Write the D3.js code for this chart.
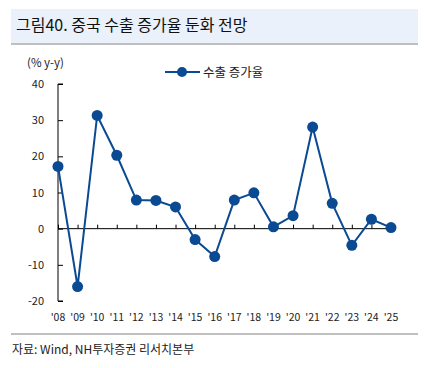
<!DOCTYPE html>
<html><head><meta charset="utf-8">
<script src="https://cdn.jsdelivr.net/npm/d3@7"></script>
<style>body{margin:0;background:#fff;} svg{display:block;}</style>
</head><body>
<svg id="c" width="424" height="368"></svg>
<script>
const years = ["'08","'09","'10","'11","'12","'13","'14","'15","'16","'17","'18","'19","'20","'21","'22","'23","'24","'25"];
const exportGrowth = [17.2,-16.0,31.3,20.3,7.9,7.8,6.0,-3.0,-7.7,7.9,9.9,0.5,3.6,28.1,7.0,-4.6,2.6,0.3];
const yTicks = [40,30,20,10,0,-10,-20];
const seriesName = "수출 증가율";
const title = "그림40. 중국 수출 증가율 둔화 전망";
const source = "자료: Wind, NH투자증권 리서치본부";
const yLabel = "(% y-y)";

const font = "'Noto Sans CJK KR', 'Noto Sans', sans-serif";
const blue = "#0a4a92";
const svg = d3.select("#c");

// title banner
svg.append("rect").attr("x",11).attr("y",9).attr("width",407).attr("height",34).attr("fill","#eaf1fa");
svg.append("rect").attr("x",11).attr("y",43).attr("width",407).attr("height",2).attr("fill","#bfbfbf");
svg.append("text").attr("x",16).attr("y",31).attr("font-family",font).attr("font-size",16).attr("fill","#111").text(title);

const x = d3.scalePoint().domain(years).range([58,391]);
const y = d3.scaleLinear().domain([-20,40]).range([301,84]);

// y axis
const yAxis = svg.append("g").attr("transform","translate(58,0)")
  .call(d3.axisRight(y).tickValues(yTicks).tickSize(5).tickFormat(""));
yAxis.select(".domain").attr("d", `M5,${y(40)}H0V${y(-20)}H5`).attr("stroke","#000");
yAxis.selectAll(".tick line").attr("stroke","#000");
svg.append("g").selectAll("text").data(yTicks).join("text")
  .attr("x",44).attr("y",d=>y(d)+4).attr("text-anchor","end")
  .attr("font-family",font).attr("font-size",11).attr("fill","#222").text(d=>d);
svg.append("text").attr("x",27).attr("y",67).attr("font-family",font).attr("font-size",11.5).attr("fill","#222").text(yLabel);

// x axis at zero
const xAxis = svg.append("g").attr("transform",`translate(0,${y(0)})`)
  .call(d3.axisTop(x).tickSize(4).tickFormat(""));
xAxis.select(".domain").attr("d",`M${x(years[0])},0H${x(years[years.length-1])}`).attr("stroke","#000");
xAxis.selectAll(".tick line").attr("stroke","#000");
svg.append("g").selectAll("text").data(years).join("text")
  .attr("x",d=>x(d)).attr("y",321).attr("text-anchor","middle")
  .attr("font-family",font).attr("font-size",10.5).attr("fill","#222").text(d=>d);

// line
const pts = years.map((yr,i)=>[x(yr), y(exportGrowth[i])]);
svg.append("path").attr("d", d3.line()(pts)).attr("fill","none").attr("stroke",blue).attr("stroke-width",2);
svg.append("g").selectAll("circle").data(pts).join("circle")
  .attr("cx",d=>d[0]).attr("cy",d=>d[1]).attr("r",5.5).attr("fill",blue);

// legend
svg.append("line").attr("x1",165).attr("x2",200).attr("y1",72).attr("y2",72).attr("stroke",blue).attr("stroke-width",2);
svg.append("circle").attr("cx",182).attr("cy",72).attr("r",5).attr("fill",blue);
svg.append("text").attr("x",203).attr("y",77).attr("font-family",font).attr("font-size",12.5).attr("fill","#222").text(seriesName);

// footer
svg.append("rect").attr("x",11).attr("y",333).attr("width",407).attr("height",2).attr("fill","#bfbfbf");
svg.append("text").attr("x",12).attr("y",354).attr("font-family",font).attr("font-size",12).attr("fill","#222").text(source);
</script>
</body></html>
